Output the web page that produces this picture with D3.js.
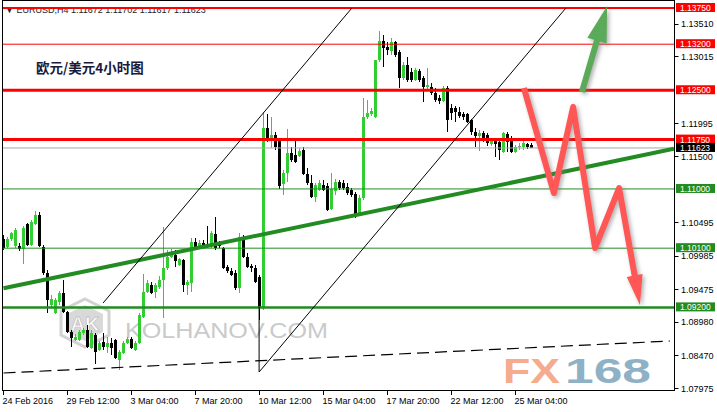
<!DOCTYPE html>
<html>
<head>
<meta charset="utf-8">
<script src="https://cdn.jsdelivr.net/npm/d3@7"></script>
<style>
  body { margin: 0; background: #fff; }
  svg text { font-family: "Liberation Sans", Arial, "DejaVu Sans", sans-serif; }
</style>
</head>
<body>
<div id="chart"></div>
<script>
// EURUSD H4 candles
var opens = [1.10239,1.10118,1.10239,1.10133,1.10133,1.10087,1.10467,1.10148,1.10467,1.10604,
  1.10118,1.09722,1.09236,1.09114,1.09282,1.09418,1.09130,1.08826,1.08704,1.08704,
  1.08810,1.08856,1.08582,1.08780,1.08552,1.08674,1.08598,1.08658,1.08704,1.08400,
  1.08506,1.08658,1.08719,1.08552,1.08658,1.09054,1.09434,1.09540,1.09434,1.09510,
  1.09616,1.09798,1.09966,1.09996,1.09844,1.09920,1.09540,1.09570,1.10194,1.10118,
  1.10178,1.10163,1.10133,1.10315,1.10178,1.10102,1.09814,1.09753,1.09722,1.09494,
  1.10270,1.09966,1.09829,1.09798,1.09662,1.09190,1.11926,1.11744,1.11820,1.11744,
  1.11075,1.11242,1.11546,1.11516,1.11501,1.11592,1.11227,1.11090,1.10878,1.10984,
  1.11060,1.11045,1.10695,1.10969,1.11105,1.11090,1.11030,1.10984,1.10923,1.10635,
  1.10862,1.12094,1.12139,1.12094,1.12960,1.13249,1.13158,1.13097,1.13234,1.13082,
  1.12686,1.12884,1.12778,1.12656,1.12793,1.12686,1.12550,1.12550,1.12458,1.12382,
  1.12337,1.12534,1.12230,1.12230,1.12170,1.12139,1.12139,1.12048,1.11866,1.11805,
  1.11850,1.11820,1.11683,1.11744,1.11714,1.11562,1.11835,1.11774,1.11562,1.11653,
  1.11638,1.11683,1.11672];
var highs = [1.10300,1.10270,1.10346,1.10406,1.10178,1.10437,1.10482,1.10528,1.10665,1.10650,
  1.10148,1.09768,1.09388,1.09342,1.09449,1.09616,1.09145,1.08856,1.08795,1.08856,
  1.08886,1.08932,1.08856,1.08810,1.08689,1.08810,1.08750,1.08734,1.08719,1.08552,
  1.08689,1.08750,1.08750,1.08689,1.09114,1.09707,1.09616,1.09586,1.09570,1.09677,
  1.10422,1.10072,1.10087,1.10072,1.09950,1.09935,1.09616,1.10254,1.10254,1.10224,
  1.10224,1.10437,1.10361,1.10574,1.10209,1.10118,1.09844,1.09798,1.09768,1.10330,
  1.10300,1.10026,1.09859,1.09844,1.09692,1.12170,1.12139,1.12094,1.11866,1.11774,
  1.11288,1.11911,1.11638,1.11729,1.11622,1.11638,1.11318,1.11212,1.11090,1.11136,
  1.11136,1.11090,1.11242,1.11151,1.11136,1.11136,1.11090,1.11014,1.10954,1.10908,
  1.12382,1.12352,1.12230,1.12170,1.13401,1.13340,1.13234,1.13294,1.13249,1.13112,
  1.12930,1.13006,1.12838,1.12838,1.12823,1.12717,1.12838,1.12610,1.12534,1.12428,
  1.12565,1.12565,1.12291,1.12261,1.12245,1.12170,1.12154,1.12063,1.11926,1.11896,
  1.11881,1.11850,1.11774,1.11774,1.11744,1.11866,1.11866,1.11805,1.11668,1.11698,
  1.11729,1.11698,1.11702];
var lows = [1.10072,1.10102,1.10209,1.10102,1.10057,1.09859,1.10133,1.10133,1.10452,1.10118,
  1.09692,1.09114,1.09206,1.09099,1.09236,1.09114,1.08810,1.08598,1.08689,1.08689,
  1.08780,1.08582,1.08567,1.08339,1.08537,1.08552,1.08506,1.08476,1.08415,1.08248,
  1.08491,1.08643,1.08567,1.08537,1.08643,1.09039,1.09418,1.09403,1.09342,1.09479,
  1.09039,1.09768,1.09950,1.09814,1.09829,1.09434,1.09388,1.09434,1.10102,1.10102,
  1.10118,1.10102,1.10102,1.10072,1.10102,1.09783,1.09722,1.09677,1.09464,1.09418,
  1.09950,1.09798,1.09738,1.09570,1.09008,1.09160,1.11714,1.11622,1.11592,1.10999,
  1.10908,1.11105,1.11410,1.11394,1.11486,1.11212,1.11060,1.10863,1.10801,1.10969,
  1.10969,1.10665,1.10680,1.10908,1.10984,1.10984,1.10908,1.10877,1.10558,1.10589,
  1.10832,1.12063,1.12109,1.12078,1.12930,1.12853,1.13036,1.13036,1.13006,1.12534,
  1.12656,1.12625,1.12625,1.12641,1.12625,1.12322,1.12504,1.12428,1.12322,1.12291,
  1.12322,1.11866,1.12048,1.12018,1.12078,1.12048,1.12002,1.11820,1.11638,1.11577,
  1.11714,1.11653,1.11653,1.11486,1.11440,1.11546,1.11562,1.11546,1.11546,1.11592,
  1.11592,1.11607,1.11617];
var closes = [1.10102,1.10239,1.10330,1.10376,1.10087,1.10406,1.10148,1.10498,1.10604,1.10133,
  1.09722,1.09312,1.09327,1.09312,1.09418,1.09130,1.08826,1.08734,1.08750,1.08826,
  1.08856,1.08598,1.08810,1.08522,1.08658,1.08598,1.08658,1.08582,1.08430,1.08522,
  1.08658,1.08719,1.08582,1.08658,1.09084,1.09434,1.09570,1.09418,1.09540,1.09616,
  1.09798,1.09966,1.10042,1.09905,1.09935,1.09540,1.09586,1.10194,1.10118,1.10178,
  1.10133,1.10118,1.10330,1.10102,1.10133,1.09798,1.09753,1.09692,1.09494,1.10270,
  1.09966,1.09814,1.09798,1.09586,1.09206,1.11926,1.11744,1.11820,1.11638,1.11045,
  1.11242,1.11546,1.11440,1.11410,1.11577,1.11227,1.11090,1.10878,1.11060,1.11090,
  1.10984,1.10680,1.10999,1.11105,1.11014,1.11014,1.10938,1.10908,1.10589,1.10862,
  1.12094,1.12154,1.12185,1.12960,1.13249,1.13142,1.13112,1.13234,1.13036,1.12686,
  1.12884,1.12656,1.12656,1.12808,1.12656,1.12550,1.12580,1.12458,1.12352,1.12337,
  1.12534,1.12048,1.12154,1.12170,1.12109,1.12094,1.12018,1.11866,1.11805,1.11850,
  1.11744,1.11698,1.11729,1.11683,1.11592,1.11850,1.11714,1.11562,1.11638,1.11653,
  1.11698,1.11638,1.11623];

// time axis: a label every 16 bars
var dateLabels = ["24 Feb 2016","29 Feb 12:00","3 Mar 04:00","7 Mar 20:00","10 Mar 12:00",
  "15 Mar 04:00","17 Mar 20:00","22 Mar 12:00","25 Mar 04:00"];
var dateIdx = [0,16,32,48,64,80,96,112,128];

// price axis
var priceTicks = [1.13510,1.13015,1.11995,1.11500,1.10495,1.09985,1.09475,1.08980,1.08470,1.07975];
var redLevels = [1.13750,1.13200,1.12500,1.11750];
var redWidths = [2,1,3,3];
var greenLevels = [1.11000,1.10100,1.09200];
var greenWidths = [1,1,2.5];
var lastPrice = 1.11623;

// drawn objects, as [bar index, price]
var trendLine = [[0,1.0949],[167.6,1.1161]];
var channelA = [[24.9,1.09267],[87.1,1.1375]];
var channelB = [[63.9,1.08218],[140.6,1.1375]];
var channelLink = [[63.9,1.09206],[63.9,1.08218]];
var dashedLine = [[0,1.08203],[166.6,1.08689]];
var redPath = [[130.1,1.12534],[137.6,1.10938],[142.4,1.12245],[147.9,1.10103],[153.9,1.11014],[159.1,1.09236]];
var greenArrow = [[144.6,1.12473],[150.9,1.1378]];

var W = 717, H = 412;
var plot = { left: 2.5, top: 0.5, right: 674.5, bottom: 390.5 };

var x = d3.scaleLinear().domain([0, 1]).range([3.5, 7.5]);
var y = d3.scaleLinear().domain([1.07975, 1.1375]).range([388, 8]);

var svg = d3.select('#chart').append('svg')
    .attr('width', W).attr('height', H);

var defs = svg.append('defs');
defs.append('clipPath').attr('id', 'clip')
    .append('rect').attr('x', 3).attr('y', 1).attr('width', 671).attr('height', 389);
var sh = defs.append('filter').attr('id', 'shadow')
    .attr('x', '-30%').attr('y', '-30%').attr('width', '160%').attr('height', '160%');
sh.append('feDropShadow').attr('dx', 2).attr('dy', 2).attr('stdDeviation', 2)
    .attr('flood-color', '#777').attr('flood-opacity', 0.6);

svg.append('rect').attr('width', W).attr('height', H).attr('fill', '#fff');

// watermarks
var wm = svg.append('g');
var hex = function (cx, cy, rx, ry) {
    return [[cx, cy - ry], [cx + rx, cy - ry / 2], [cx + rx, cy + ry / 2],
            [cx, cy + ry], [cx - rx, cy + ry / 2], [cx - rx, cy - ry / 2]];
};
wm.append('polygon').attr('points', hex(85, 323, 24, 24).join(' '))
    .attr('fill', 'none').attr('stroke', '#d2d2d2').attr('stroke-width', 3);
wm.append('polygon').attr('points', hex(85, 323, 18, 18).join(' '))
    .attr('fill', '#d9d9d9');
wm.append('text').attr('x', 85).attr('y', 331).attr('text-anchor', 'middle')
    .attr('font-size', 20).attr('font-weight', 'bold').attr('fill', '#fff')
    .attr('stroke', '#c4c4c4').attr('stroke-width', 0.8).text('AK');
wm.append('text').attr('x', 125).attr('y', 338)
    .attr('font-size', 22).attr('fill', '#cacaca')
    .attr('textLength', 203).attr('lengthAdjust', 'spacingAndGlyphs').text('KOLHANOV.COM');
wm.append('text').attr('x', 503).attr('y', 383)
    .attr('font-size', 35).attr('font-weight', 'bold').attr('fill', '#f5ab8e')
    .attr('textLength', 57).attr('lengthAdjust', 'spacingAndGlyphs').text('FX');
wm.append('text').attr('x', 565).attr('y', 383)
    .attr('font-size', 35).attr('font-weight', 'bold').attr('fill', '#8fb1c6')
    .attr('textLength', 86).attr('lengthAdjust', 'spacingAndGlyphs').text('168');

// candles
var data = opens.map(function (o, i) {
    return { i: i, o: o, h: highs[i], l: lows[i], c: closes[i] };
});
var candleColor = function (d) {
    if (d.c > d.o) return '#32cd32';
    if (d.c < d.o) return '#000';
    return '#909090';
};
var cg = svg.append('g').attr('clip-path', 'url(#clip)').attr('shape-rendering', 'crispEdges');
cg.selectAll('line.wick').data(data).enter().append('line')
    .attr('class', 'wick')
    .attr('x1', function (d) { return x(d.i); })
    .attr('x2', function (d) { return x(d.i); })
    .attr('y1', function (d) { return y(d.h); })
    .attr('y2', function (d) { return y(d.l); })
    .attr('stroke', candleColor);
cg.selectAll('rect.body').data(data).enter().append('rect')
    .attr('class', 'body')
    .attr('x', function (d) { return x(d.i) - 1.5; })
    .attr('width', 3)
    .attr('y', function (d) { return y(Math.max(d.o, d.c)); })
    .attr('height', function (d) { return Math.max(1, Math.abs(y(d.o) - y(d.c))); })
    .attr('fill', candleColor);

// header texts
svg.append('text').attr('x', 5).attr('y', 13).attr('font-size', 9).attr('fill', '#222')
    .text('\u25BC EURUSD,H4  1.11672 1.11702 1.11617 1.11623');
svg.append('text').attr('x', 36).attr('y', 73)
    .style('font-family', '"Noto Sans CJK SC", sans-serif')
    .attr('font-size', 13.5).attr('font-weight', 'bold').attr('fill', '#1a1a3a')
    .text('欧元/美元4小时图');

// objects
var og = svg.append('g').attr('clip-path', 'url(#clip)');
var line = d3.line().x(function (d) { return x(d[0]); }).y(function (d) { return y(d[1]); });

og.append('line').attr('x1', plot.left).attr('x2', plot.right)
    .attr('y1', y(lastPrice)).attr('y2', y(lastPrice))
    .attr('stroke', '#a8a8a8').attr('stroke-width', 1);

og.selectAll('line.red').data(redLevels).enter().append('line')
    .attr('x1', plot.left).attr('x2', plot.right)
    .attr('y1', function (d) { return y(d); }).attr('y2', function (d) { return y(d); })
    .attr('stroke', '#ff0000')
    .attr('stroke-width', function (d, i) { return redWidths[i]; });

og.selectAll('line.green').data(greenLevels).enter().append('line')
    .attr('x1', plot.left).attr('x2', plot.right)
    .attr('y1', function (d) { return y(d); }).attr('y2', function (d) { return y(d); })
    .attr('stroke', '#228b22')
    .attr('stroke-width', function (d, i) { return greenWidths[i]; });

og.append('path').attr('d', line(trendLine))
    .attr('stroke', '#228b22').attr('stroke-width', 4).attr('fill', 'none');

[channelA, channelB, channelLink].forEach(function (c) {
    og.append('path').attr('d', line(c))
        .attr('stroke', '#000').attr('stroke-width', 1).attr('fill', 'none');
});
og.append('path').attr('d', line(dashedLine))
    .attr('stroke', '#000').attr('stroke-width', 1.2).attr('fill', 'none')
    .attr('stroke-dasharray', '12,6');

// arrows with a shadow
function arrow(pts, color, len, half) {
    var px = pts.map(function (p) { return [x(p[0]), y(p[1])]; });
    var tip = px[px.length - 1], from = px[px.length - 2];
    var dx = tip[0] - from[0], dy = tip[1] - from[1], L = Math.hypot(dx, dy);
    var ux = dx / L, uy = dy / L;
    var bx = tip[0] - ux * len, by = tip[1] - uy * len;
    var shaft = px.slice(0, -1).concat([[bx + ux * 2, by + uy * 2]]);
    var g = og.append('g').attr('filter', 'url(#shadow)');
    g.append('path').attr('d', d3.line()(shaft))
        .attr('stroke', color).attr('stroke-width', 6).attr('fill', 'none')
        .attr('stroke-linejoin', 'round');
    g.append('polygon')
        .attr('points', [tip, [bx - uy * half, by + ux * half], [bx + uy * half, by - ux * half]].join(' '))
        .attr('fill', color);
}
arrow(redPath, '#ff5656', 30, 8);
arrow(greenArrow, '#5aaa5a', 36, 10);

// frame
svg.append('rect').attr('x', plot.left).attr('y', plot.top)
    .attr('width', plot.right - plot.left).attr('height', plot.bottom - plot.top)
    .attr('fill', 'none').attr('stroke', '#000').attr('stroke-width', 1);

// time axis
var xa = svg.append('g');
xa.selectAll('line').data(dateIdx).enter().append('line')
    .attr('x1', function (d) { return x(d); }).attr('x2', function (d) { return x(d); })
    .attr('y1', plot.bottom).attr('y2', plot.bottom + 4)
    .attr('stroke', '#000').attr('shape-rendering', 'crispEdges');
xa.selectAll('text').data(dateLabels).enter().append('text')
    .attr('x', function (d, i) { return x(dateIdx[i]) - 1; })
    .attr('y', 404).attr('font-size', 9).attr('fill', '#000')
    .text(function (d) { return d; });

// price axis
var ya = svg.append('g');
ya.selectAll('line').data(priceTicks).enter().append('line')
    .attr('x1', plot.right).attr('x2', plot.right + 4)
    .attr('y1', function (d) { return Math.round(y(d)) + 0.5; })
    .attr('y2', function (d) { return Math.round(y(d)) + 0.5; })
    .attr('stroke', '#000');
ya.selectAll('text').data(priceTicks).enter().append('text')
    .attr('x', 681).attr('y', function (d) { return y(d) + 3.5; })
    .attr('font-size', 9).attr('fill', '#000')
    .text(function (d) { return d.toFixed(5); });

function tag(v, bg) {
    ya.append('rect').attr('x', 676).attr('y', y(v) - 5)
        .attr('width', 39).attr('height', 9).attr('fill', bg);
    ya.append('text').attr('x', 680).attr('y', y(v) + 3)
        .attr('font-size', 8.5).attr('fill', '#fff').text(v.toFixed(5));
}
redLevels.forEach(function (v) { tag(v, '#ff0000'); });
tag(lastPrice, '#000');
greenLevels.forEach(function (v) { tag(v, '#228b22'); });
</script>
</body>
</html>
